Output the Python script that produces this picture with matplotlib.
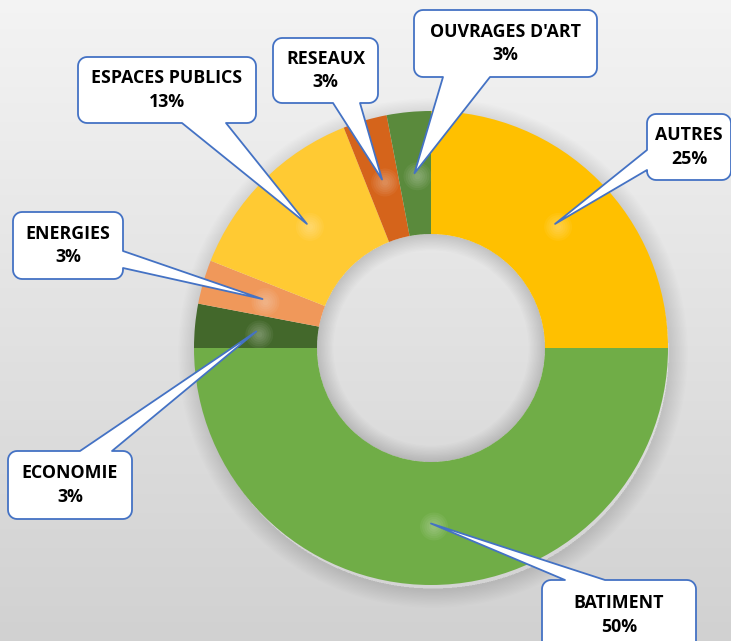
import numpy as np
import matplotlib
matplotlib.use('Agg')
import matplotlib.pyplot as plt
from matplotlib.patches import Polygon, Wedge

W, H = 731, 641

categories = ['AUTRES', 'BATIMENT', 'ECONOMIE', 'ENERGIES',
              'ESPACES PUBLICS', 'RESEAUX', "OUVRAGES D'ART"]
shares = [25, 50, 3, 3, 13, 3, 3]
colors = ['#FFC000', '#70AD47', '#43682B', '#F0985A',
          '#FFCA33', '#D5641B', '#5A8A3C']

# callout layout in pixel coords (y down): box, side of pointer, pointer base
callouts = {
    'AUTRES': ((647, 114, 731, 180), 'left', (150, 170)),
    'BATIMENT': ((542, 580, 696, 650), 'top', (565, 605)),
    'ECONOMIE': ((8, 451, 132, 519), 'top', (80, 112)),
    'ENERGIES': ((13, 212, 123, 279), 'right', (251, 268)),
    'ESPACES PUBLICS': ((78, 57, 256, 123), 'bottom', (182, 226)),
    'RESEAUX': ((273, 38, 378, 103), 'bottom', (333, 360)),
    "OUVRAGES D'ART": ((414, 10, 597, 77), 'bottom', (443, 490)),
}

cx, cy = 431, H - 348
r_out, r_in = 237, 114
edge = '#4472C4'

fig = plt.figure(figsize=(W / 100, H / 100), dpi=100)
ax = fig.add_axes([0, 0, 1, 1])

# background gradient, light at top, grey at bottom
grad = np.linspace(0.955, 0.82, 200)[:, None] * np.ones((1, 2))
ax.imshow(np.dstack([grad] * 3), extent=(0, W, 0, H), origin='upper',
          aspect='auto', zorder=0)

# soft shadow around the ring
for i in range(14):
    ax.add_patch(Wedge((cx + 2, cy - 5), r_out + 1 + i * 1.3, 0, 360,
                       width=2.5 + i * 1.3, color='black', alpha=0.008,
                       lw=0, zorder=1))
for i in range(12):
    ax.add_patch(Wedge((cx, cy), r_in, 0, 360, width=1 + i * 1.4,
                       color='black', alpha=0.01, lw=0, zorder=1))

wedges, _ = ax.pie(shares, colors=colors, startangle=90, counterclock=False,
                   radius=r_out, center=(cx, cy),
                   wedgeprops=dict(width=r_out - r_in, linewidth=0))
for w in wedges:
    w.set_zorder(2)


def box_path(box, side, base, tip):
    x0, y0, x1, y1 = box
    rc = 9
    pts = []

    def arc(ccx, ccy, a0, a1):
        for a in np.linspace(np.radians(a0), np.radians(a1), 8):
            pts.append((ccx + rc * np.cos(a), ccy + rc * np.sin(a)))

    tx, ty = tip
    arc(x0 + rc, y0 + rc, 180, 270)
    if side == 'top':
        pts += [(base[0], y0), (tx, ty), (base[1], y0)]
    arc(x1 - rc, y0 + rc, 270, 360)
    if side == 'right':
        pts += [(x1, base[0]), (tx, ty), (x1, base[1])]
    arc(x1 - rc, y1 - rc, 0, 90)
    if side == 'bottom':
        pts += [(base[1], y1), (tx, ty), (base[0], y1)]
    arc(x0 + rc, y1 - rc, 90, 180)
    if side == 'left':
        pts += [(x0, base[1]), (tx, ty), (x0, base[0])]
    return [(px, H - py) for px, py in pts]


total = sum(shares)
r_mid = (r_out + r_in) / 2
for w, cat, val in zip(wedges, categories, shares):
    ang = np.radians((w.theta1 + w.theta2) / 2)
    tx = cx + r_mid * np.cos(ang)
    ty = cy + r_mid * np.sin(ang)
    # glint at the pointer tip
    for k in range(6):
        ax.add_patch(Wedge((tx + 3, ty - 3), 3 + k * 2.2, 0, 360,
                           color='white', alpha=0.05, lw=0, zorder=3))
    box, side, base = callouts[cat]
    ax.add_patch(Polygon(box_path(box, side, base, (tx, H - ty)), closed=True,
                         facecolor='white', edgecolor=edge, linewidth=1.3,
                         joinstyle='round', zorder=4))
    bx = (box[0] + box[2]) / 2
    by = H - (box[1] + box[3]) / 2
    if cat == 'BATIMENT':
        by = H - 615
    ax.text(bx, by, f'{cat}\n{round(val / total * 100)}%', ha='center',
            va='center', fontsize=12.8, fontweight='bold', family='Open Sans',
            linespacing=1.4, color='black', zorder=5)

ax.set_xlim(0, W)
ax.set_ylim(0, H)
ax.axis('off')
fig.savefig('out.png', dpi=100)
